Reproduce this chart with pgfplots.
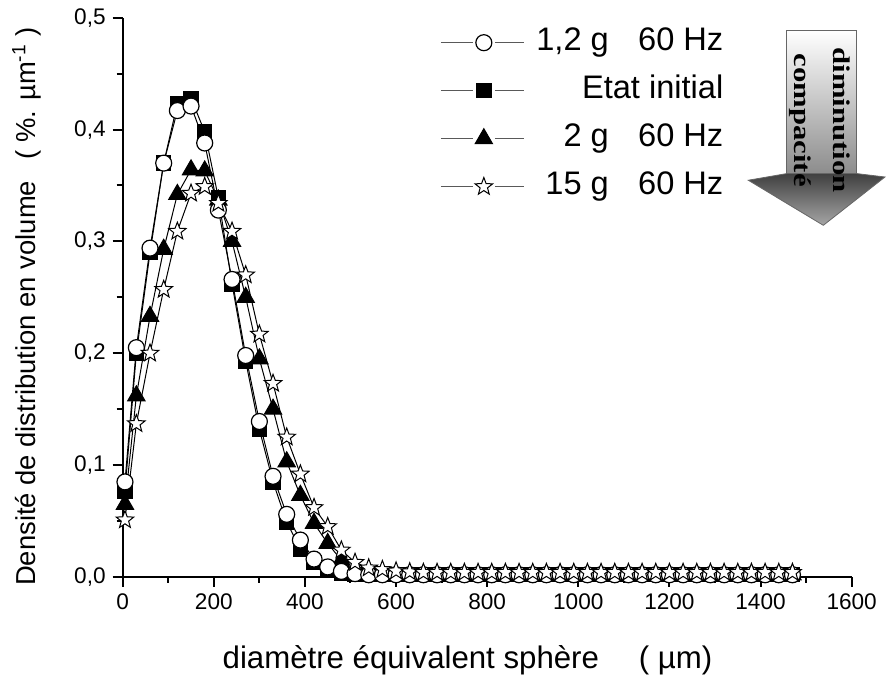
\documentclass[border=0pt]{standalone}
\usepackage{pgfplots}
\pgfplotsset{compat=1.18}
\usepackage{pgfplotstable}
\usepackage{fontspec}
\setmainfont{Liberation Sans}
\newfontfamily\serifbold{Liberation Serif}

\pgfdeclareplotmark{ostar}{%
  \pgfpathmoveto{\pgfpointpolar{90}{\pgfplotmarksize}}%
  \pgfpathlineto{\pgfpointpolar{126}{0.42\pgfplotmarksize}}%
  \pgfpathlineto{\pgfpointpolar{162}{\pgfplotmarksize}}%
  \pgfpathlineto{\pgfpointpolar{198}{0.42\pgfplotmarksize}}%
  \pgfpathlineto{\pgfpointpolar{234}{\pgfplotmarksize}}%
  \pgfpathlineto{\pgfpointpolar{270}{0.42\pgfplotmarksize}}%
  \pgfpathlineto{\pgfpointpolar{306}{\pgfplotmarksize}}%
  \pgfpathlineto{\pgfpointpolar{342}{0.42\pgfplotmarksize}}%
  \pgfpathlineto{\pgfpointpolar{18}{\pgfplotmarksize}}%
  \pgfpathlineto{\pgfpointpolar{54}{0.42\pgfplotmarksize}}%
  \pgfpathclose
  \pgfusepathqfillstroke
}

\pgfplotstableread{
x    c     s     t     st
5    0.085 0.077 0.065 0.051
30   0.205 0.200 0.162 0.137
60   0.294 0.290 0.233 0.200
90   0.370 0.370 0.293 0.257
120  0.417 0.423 0.342 0.309
150  0.421 0.428 0.364 0.343
180  0.388 0.398 0.363 0.349
210  0.328 0.339 0.337 0.334
240  0.266 0.262 0.300 0.309
270  0.198 0.193 0.250 0.270
300  0.139 0.132 0.195 0.217
330  0.090 0.085 0.150 0.173
360  0.056 0.049 0.103 0.125
390  0.033 0.025 0.073 0.092
420  0.016 0.013 0.048 0.062
450  0.009 0.006 0.030 0.045
480  0.005 0.003 0.015 0.024
510  0.003 0.002 0.006 0.013
540  0.002 0.002 0.004 0.008
570  0.002 0.002 0.003 0.0066
600  0.002 0.002 0.002 0.0053
630  0.002 0.002 0.002 0.0045
660  0.002 0.002 0.002 0.004
690  0.002 0.002 0.002 0.004
720  0.002 0.002 0.002 0.004
750  0.002 0.002 0.002 0.004
780  0.002 0.002 0.002 0.004
810  0.002 0.002 0.002 0.004
840  0.002 0.002 0.002 0.004
870  0.002 0.002 0.002 0.004
900  0.002 0.002 0.002 0.004
930  0.002 0.002 0.002 0.004
960  0.002 0.002 0.002 0.004
990  0.002 0.002 0.002 0.004
1020 0.002 0.002 0.002 0.004
1050 0.002 0.002 0.002 0.004
1080 0.002 0.002 0.002 0.004
1110 0.002 0.002 0.002 0.004
1140 0.002 0.002 0.002 0.004
1170 0.002 0.002 0.002 0.004
1200 0.002 0.002 0.002 0.004
1230 0.002 0.002 0.002 0.004
1260 0.002 0.002 0.002 0.004
1290 0.002 0.002 0.002 0.004
1320 0.002 0.002 0.002 0.004
1350 0.002 0.002 0.002 0.004
1380 0.002 0.002 0.002 0.004
1410 0.002 0.002 0.002 0.004
1440 0.002 0.002 0.002 0.004
1470 0.002 0.002 0.002 0.004
}\datatable

\pgfplotsset{
  ci/.style={black, line width=0.5pt, mark=*, mark size=4pt, mark options={solid, fill=white, line width=0.6pt}},
  sq/.style={black, line width=0.5pt, mark=square*, mark size=3.6pt, mark options={solid, fill=black}},
  tr/.style={black, line width=0.5pt, mark=triangle*, mark size=5pt, mark options={solid, fill=black}},
  stt/.style={black, line width=0.5pt, mark=ostar, mark size=4.6pt, mark options={solid, fill=white, line width=0.5pt}},
}

\begin{document}
\begin{tikzpicture}
\begin{axis}[
  width=364.5pt, height=279.65pt, scale only axis,
  xmin=0, xmax=1600, ymin=0, ymax=0.5,
  clip=false,
  axis lines*=left,
  axis line style={line width=1pt, -},
  xtick={0,200,400,600,800,1000,1200,1400,1600},
  ytick={0,0.1,0.2,0.3,0.4,0.5},
  minor x tick num=1, minor y tick num=1,
  tick align=outside,
  major tick length=5pt, minor tick length=3pt,
  tick style={line width=1pt, black},
  /pgf/number format/assume math mode=true,
  y tick label style={/pgf/number format/.cd, use comma, fixed, fixed zerofill, precision=1},
  x tick label style={/pgf/number format/.cd, 1000 sep={}},
  ticklabel style={font=\fontsize{11.3}{13}\selectfont},
  xlabel={diamètre équivalent sphère\hspace{1em} ( µm)},
  xlabel style={at={(rel axis cs:0.473,-0.1632)}, anchor=base, font=\fontsize{15.6}{18}\selectfont},
  ylabel={Densité de distribution en volume\hspace{0.5em} ( \%. µm\textsuperscript{-1} )},
  ylabel style={at={(rel axis cs:-0.119,0.4835)}, anchor=base, font=\fontsize{13.7}{16}\selectfont},
  legend style={draw=none, fill=none, at={(rel axis cs:0.83,0.99)}, anchor=north east,
    font=\fontsize{16.3}{19}\selectfont, row sep=5pt, column sep=4pt, inner sep=0pt,
    nodes={inner sep=2pt, text height=11.5pt, text depth=3.5pt}},
  legend cell align=right,
  legend image code/.code={
    \draw[mark=none, black!65, line width=0.5pt] (0pt,0pt) -- (16pt,0pt);
    \draw[mark=none, black!65, line width=0.5pt] (27pt,0pt) -- (41.5pt,0pt);
    \draw plot coordinates {(21.5pt,0pt)};
  },
]
\path (rel axis cs:-0.1683,-0.1848) rectangle (rel axis cs:1.0471,1.0317);

\addlegendimage{ci}
\addlegendentry{1,2 g\hspace{0.9em}60 Hz}
\addlegendimage{sq}
\addlegendentry{Etat initial}
\addlegendimage{tr}
\addlegendentry{2 g\hspace{0.9em}60 Hz}
\addlegendimage{stt}
\addlegendentry{15 g\hspace{0.9em}60 Hz}

\addplot[sq, forget plot] table[x=x, y=s] {\datatable};
\addplot[tr, forget plot] table[x=x, y=t] {\datatable};
\addplot[ci, forget plot] table[x=x, y=c] {\datatable};
\addplot[stt, forget plot] table[x=x, y=st] {\datatable};

% arrow "diminution compacite"
\shade[top color=white, bottom color=black!45, draw=black!60, line width=0.4pt]
  (rel axis cs:0.9109,0.9775) rectangle (rel axis cs:1.0069,0.7213);
\shade[top color=black!75, bottom color=black!35, draw=black!60, line width=0.4pt]
  (rel axis cs:0.8582,0.7094) -- (rel axis cs:0.9109,0.7213) -- (rel axis cs:1.0069,0.7213)
  -- (rel axis cs:1.0457,0.7152) -- (rel axis cs:0.9611,0.6288) -- cycle;
\node[rotate=-90, align=center, font=\fontsize{12}{15}\selectfont\serifbold\bfseries, inner sep=0pt]
  at (rel axis cs:0.9565,0.8166) {\scalebox{1.28}[1]{diminution}\\[4.5pt]\scalebox{1.28}[1]{compacité}};
\end{axis}
\end{tikzpicture}
\end{document}
